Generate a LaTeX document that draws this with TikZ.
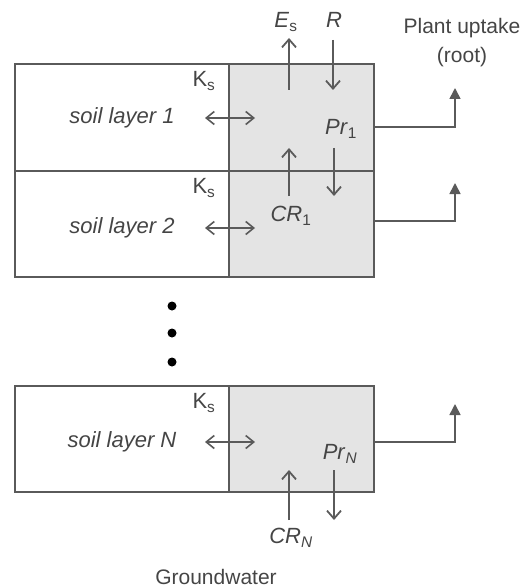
\documentclass[tikz,border=0pt]{standalone}
\usepackage{fontspec}
\setmainfont{Liberation Sans}
\usetikzlibrary{arrows.meta}
\definecolor{linegray}{HTML}{5A5A5A}
\definecolor{txtgray}{HTML}{454545}
\definecolor{boxfill}{HTML}{E4E4E4}
\begin{document}
\begin{tikzpicture}[x=1pt,y=-1pt,
  soilbox/.style={draw=linegray, line width=2pt, fill=white},
  rootbox/.style={draw=linegray, line width=2pt, fill=boxfill},
  flow/.style={draw=linegray, line width=1.8pt, -{Straight Barb[length=8pt,width=14pt,line width=1.8pt]}},
  exch/.style={draw=linegray, line width=1.6pt, {Straight Barb[length=8pt,width=13pt,line width=1.6pt]}-{Straight Barb[length=8pt,width=13pt,line width=1.6pt]}},
  uptake/.style={draw=linegray, line width=1.6pt, -{Triangle[length=11pt,width=11pt]}},
  lbl/.style={text=txtgray, inner sep=0pt, font=\fontsize{22}{26}\selectfont},
  dotn/.style={circle, fill=black, inner sep=0pt, minimum size=9pt}]
\useasboundingbox (0,0) rectangle (528,588);
% layer boxes
\draw[soilbox] (15,64) rectangle (229,171);
\draw[rootbox] (229,64) rectangle (374,171);
\draw[soilbox] (15,171) rectangle (229,277);
\draw[rootbox] (229,171) rectangle (374,277);
\draw[soilbox] (15,386) rectangle (229,492);
\draw[rootbox] (229,386) rectangle (374,492);
% dots
\node[dotn] (d1) at (172,306) {};
\node[dotn] (d2) at (172,333) {};
\node[dotn] (d3) at (172,362) {};
% labels
\node[lbl] (es) at (286,22) {\textit{E}\textsubscript{s}};
\node[lbl] (r) at (334,20) {\textit{R}};
\node[lbl, align=center, font=\fontsize{21}{29}\selectfont] (plant) at (462,43) {Plant uptake\\(root)};
\node[lbl] (ks1) at (204,81) {K\textsubscript{s}};
\node[lbl] (ks2) at (204,188) {K\textsubscript{s}};
\node[lbl] (ksn) at (204,403) {K\textsubscript{s}};
\node[lbl] (sl1) at (122,118) {\textit{soil layer 1}};
\node[lbl] (sl2) at (122,228) {\textit{soil layer 2}};
\node[lbl] (sln) at (122,442) {\textit{soil layer N}};
\node[lbl] (pr1) at (341,129) {\textit{Pr}\textsubscript{1}};
\node[lbl] (cr1) at (291,216) {\textit{CR}\textsubscript{1}};
\node[lbl] (prn) at (340,454) {\textit{Pr}\textsubscript{\textit{N}}};
\node[lbl] (crn) at (291,538) {\textit{CR}\textsubscript{\textit{N}}};
\node[lbl, font=\fontsize{21}{25}\selectfont] (gw) at (216,577) {Groundwater};
% arrow end points
\coordinate (esA) at (289,90);   \coordinate (esB) at (289,38);
\coordinate (rA) at (333,40);    \coordinate (rB) at (333,90);
\coordinate (p1A) at (334,148);  \coordinate (p1B) at (334,196);
\coordinate (c1A) at (289,196);  \coordinate (c1B) at (289,148);
\coordinate (pnA) at (334,470);  \coordinate (pnB) at (334,520);
\coordinate (cnA) at (289,520);  \coordinate (cnB) at (289,470);
\coordinate (x1A) at (205,118);  \coordinate (x1B) at (255,118);
\coordinate (x2A) at (205,228);  \coordinate (x2B) at (255,228);
\coordinate (xnA) at (205,442);  \coordinate (xnB) at (255,442);
\coordinate (u1A) at (374,127);  \coordinate (u1B) at (455,88);
\coordinate (u2A) at (374,221);  \coordinate (u2B) at (455,183);
\coordinate (unA) at (374,442);  \coordinate (unB) at (455,404);
% flows
\draw[flow] (esA) -- (esB);
\draw[flow] (rA) -- (rB);
\draw[flow] (p1A) -- (p1B);
\draw[flow] (c1A) -- (c1B);
\draw[flow] (pnA) -- (pnB);
\draw[flow] (cnA) -- (cnB);
\draw[exch] (x1A) -- (x1B);
\draw[exch] (x2A) -- (x2B);
\draw[exch] (xnA) -- (xnB);
\draw[uptake] (u1A) -| (u1B);
\draw[uptake] (u2A) -| (u2B);
\draw[uptake] (unA) -| (unB);
\end{tikzpicture}
\end{document}
